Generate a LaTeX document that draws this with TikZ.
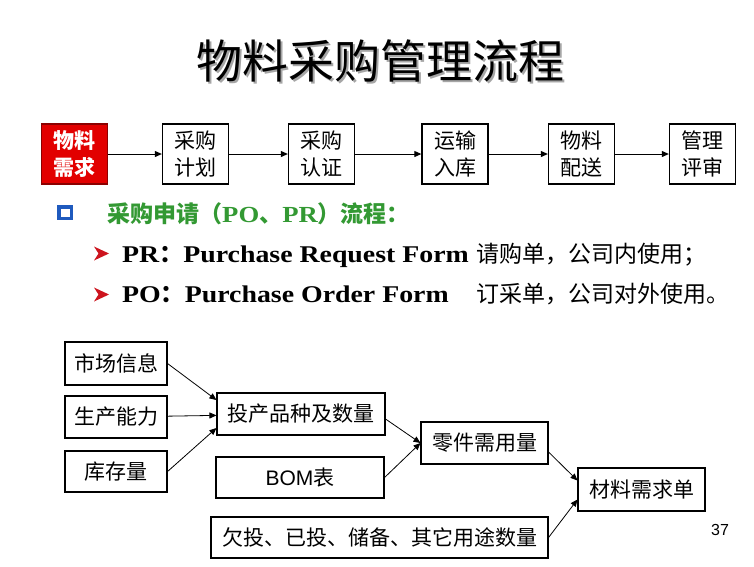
\documentclass[tikz,border=0pt]{standalone}
\usepackage{fontspec}
\usepackage{graphicx}
\setmainfont{Liberation Serif}
\newfontfamily\cjk{Noto Sans CJK SC}
\newfontfamily\enb[FakeStretch=1.16]{Liberation Serif}
\newfontfamily\ensf{Liberation Sans}
\usetikzlibrary{positioning,arrows.meta}
\definecolor{stepred}{RGB}{226,0,0}
\definecolor{headgreen}{RGB}{51,153,51}
\definecolor{boxblue}{RGB}{31,90,190}
\definecolor{tipred}{RGB}{205,20,30}
\newcommand{\shadetext}[1]{\makebox[0pt][l]{\hspace{2.5pt}\raisebox{-2.5pt}{\color{black!35}#1}}#1}
\tikzset{
  flowarrow/.style={-{Triangle[length=7pt,width=6pt]}, line width=0.9pt},
  stepbox/.style={draw, line width=1.3pt, fill=white, minimum width=66pt, minimum height=60pt, inner sep=0pt, align=center, font=\cjk\fontsize{21}{27}\selectfont},
  startbox/.style={stepbox, fill=stepred, draw=red!55!black, text=white, font=\cjk\bfseries\fontsize{21}{27}\selectfont},
  itembox/.style={draw, line width=1.1pt, fill=white, inner sep=0pt, font=\cjk\fontsize{21}{25}\selectfont},
  linkarrow/.style={-{Triangle[length=7pt,width=6pt]}, line width=0.8pt},
  bullettext/.style={anchor=base west, inner sep=0pt}
}

\begin{document}
\begin{tikzpicture}[x=1pt, y=-1pt]
  \useasboundingbox[fill=white] (0,0) rectangle (754,566);

  \node[font=\cjk\fontsize{46}{50}\selectfont] (title) at (380,62) {\shadetext{物料采购管理流程}};

  \node[startbox] (need) at (74.5,154) {物料\\需求};
  \node[stepbox] (plan) at (195.5,154) {采购\\计划};
  \node[stepbox] (cert) at (321.5,154) {采购\\认证};
  \node[stepbox] (store) at (455,154) {运输\\入库};
  \node[stepbox] (deliv) at (581.5,154) {物料\\配送};
  \node[stepbox] (audit) at (702.5,154) {管理\\评审};
  \draw[flowarrow] (need) -- (plan);
  \draw[flowarrow] (plan) -- (cert);
  \draw[flowarrow] (cert) -- (store);
  \draw[flowarrow] (store) -- (deliv);
  \draw[flowarrow] (deliv) -- (audit);

  \draw[boxblue, line width=3.5pt, fill=white] (58.75,206.75) rectangle (71.25,218.25);
  \node[bullettext, text=headgreen, font=\fontsize{23}{27}\selectfont\bfseries] (head) at (107,222.5)
    {\cjk 采购申请（\enb PO\cjk 、\enb PR\cjk ）流程：};

  \fill[tipred] (94,246.5) -- (109,253.5) -- (94,260.5) -- (98.5,253.5) -- cycle;
  \node[bullettext, font=\fontsize{24}{28}\selectfont\bfseries] (prline) at (122,262)
    {\enb PR\cjk ：\enb Purchase Request Form};
  \node[bullettext, font=\cjk\fontsize{23}{27}\selectfont] (prnote) at (476,262) {请购单，公司内使用；};

  \fill[tipred] (94,287.5) -- (109,294.5) -- (94,301.5) -- (98.5,294.5) -- cycle;
  \node[bullettext, font=\fontsize{24}{28}\selectfont\bfseries] (poline) at (122,302)
    {\enb PO\cjk ：\enb Purchase Order Form};
  \node[bullettext, font=\cjk\fontsize{23}{27}\selectfont] (ponote) at (476,302) {订采单，公司对外使用。};

  \node[itembox, minimum width=102pt, minimum height=43pt] (mkt) at (116,363.5) {市场信息};
  \node[itembox, minimum width=102pt, minimum height=42pt] (cap) at (116,417) {生产能力};
  \node[itembox, minimum width=102pt, minimum height=41pt] (inv) at (116,471.5) {库存量};
  \node[itembox, minimum width=168pt, minimum height=42pt] (prod) at (301,414) {投产品种及数量};
  \node[itembox, minimum width=168pt, minimum height=41pt] (bom) at (300,477.5) {\ensf BOM\cjk 表};
  \node[itembox, minimum width=127pt, minimum height=42pt] (part) at (484.5,443) {零件需用量};
  \node[itembox, minimum width=127pt, minimum height=43pt] (mrq) at (641.5,489.5) {材料需求单};
  \node[itembox, minimum width=337pt, minimum height=41pt] (other) at (379.5,537.5) {欠投、已投、储备、其它用途数量};

  \draw[linkarrow] (mkt.east) -- ([yshift=14pt]prod.west);
  \draw[linkarrow] (cap) -- (prod);
  \draw[linkarrow] (inv.east) -- ([yshift=-14pt]prod.west);
  \draw[linkarrow] ([yshift=-5pt]prod.east) -- (part.west);
  \draw[linkarrow] (bom.east) -- (part.west);
  \draw[linkarrow] ([yshift=-9pt]part.east) -- ([yshift=9pt]mrq.west);
  \draw[linkarrow] (other.east) -- ([yshift=-10pt]mrq.west);

  \node[font=\ensf\fontsize{16}{18}\selectfont] (pagenum) at (720,530) {37};
\end{tikzpicture}
\end{document}
